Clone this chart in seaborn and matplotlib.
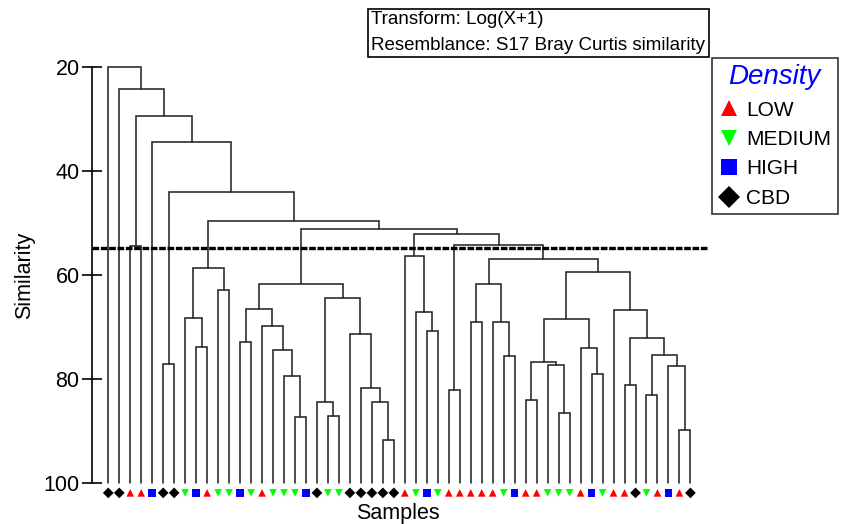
import matplotlib
matplotlib.use("Agg")
import matplotlib.pyplot as plt
import seaborn as sns
import pandas as pd
from matplotlib.lines import Line2D
from matplotlib.patches import Rectangle

# ---------------- data ----------------
density = ["CBD", "CBD", "LOW", "LOW", "HIGH", "CBD", "CBD", "MEDIUM", "HIGH", "LOW",
           "MEDIUM", "MEDIUM", "HIGH", "MEDIUM", "LOW", "MEDIUM", "MEDIUM", "MEDIUM", "HIGH", "CBD",
           "MEDIUM", "MEDIUM", "CBD", "CBD", "CBD", "CBD", "CBD", "LOW", "MEDIUM", "HIGH",
           "MEDIUM", "LOW", "LOW", "LOW", "LOW", "LOW", "MEDIUM", "HIGH", "LOW", "LOW",
           "MEDIUM", "MEDIUM", "MEDIUM", "LOW", "HIGH", "MEDIUM", "LOW", "LOW", "CBD", "MEDIUM",
           "LOW", "HIGH", "LOW", "CBD"]
groups = ["LOW", "MEDIUM", "HIGH", "CBD"]

# dendrogram merges: (left, right, similarity); ints are sample numbers (1-based, plot order)
t28_31 = (28, (29, (30, 31, 70.8), 67.2), 56.3)
t32_33 = (32, 33, 82.1)
t34_38 = ((34, 35, 69.1), (36, (37, 38, 75.5), 69.0), 61.7)
t39_46 = (((39, 40, 84.0), (41, (42, 43, 86.5), 77.3), 76.7), (44, (45, 46, 79.0), 74.0), 68.4)
t47_54 = (47, ((48, 49, 81.2), ((50, 51, 83.0), (52, (53, 54, 89.9), 77.5), 75.3), 72.1), 66.7)
t39_54 = (t39_46, t47_54, 59.4)
t34_54 = (t34_38, t39_54, 56.9)
t32_54 = (t32_33, t34_54, 54.2)
t28_54 = (t28_31, t32_54, 52.1)
t13_19 = ((13, 14, 72.9), (15, (16, (17, (18, 19, 87.4), 79.5), 74.4), 69.9), 66.5)
t20_27 = ((20, (21, 22, 87.2), 84.5), (23, (24, (25, (26, 27, 91.7), 84.5), 81.7), 71.3), 64.5)
t13_27 = (t13_19, t20_27, 61.7)
t13_54 = (t13_27, t28_54, 51.2)
t8_12 = ((8, (9, 10, 73.8), 68.3), (11, 12, 62.9), 58.7)
t8_54 = (t8_12, t13_54, 49.6)
t6_54 = ((6, 7, 77.1), t8_54, 44.0)
t5_54 = (5, t6_54, 34.4)
t3_54 = ((3, 4, 54.5), t5_54, 29.4)
t2_54 = (2, t3_54, 24.2)
tree = (1, t2_54, 20.0)

cut_level = 54.8
y_ticks = [20, 40, 60, 80, 100]
info_lines = ["Transform: Log(X+1)", "Resemblance: S17 Bray Curtis similarity"]

# ---------------- style ----------------
sns.set_theme(style="white")
plt.rcParams["font.family"] = ["Liberation Sans", "DejaVu Sans"]
plt.rcParams["text.color"] = "black"

W, H = 846, 524
fig = plt.figure(figsize=(W / 100, H / 100), dpi=100)
ax_l, ax_r, ax_t, ax_b = 92, 708, 67, 500
ax = fig.add_axes([ax_l / W, 1 - ax_b / H, (ax_r - ax_l) / W, (ax_b - ax_t) / H])

line_col = "#262626"
segments = []


def layout(node):
    if isinstance(node, int):
        return node - 1, 100.0
    left, right, h = node
    xl, hl = layout(left)
    xr, hr = layout(right)
    segments.append(([xl, xl, xr, xr], [hl, h, h, hr]))
    return (xl + xr) / 2.0, h


layout(tree)
for xs, ys in segments:
    ax.plot(xs, ys, color=line_col, lw=1.15, solid_joinstyle="miter", clip_on=False)

ax.axhline(cut_level, color="black", lw=2.4, ls=(0, (2.0, 0.5)), zorder=3)

# leaf markers
df = pd.DataFrame({"sample": range(len(density)), "density": density})
df["level"] = 101.9
palette = {"LOW": "#ff0000", "MEDIUM": "#00ff00", "HIGH": "#0000ff", "CBD": "#000000"}
markers = {"LOW": "^", "MEDIUM": "v", "HIGH": "s", "CBD": "D"}
sns.scatterplot(data=df, x="sample", y="level", hue="density", style="density",
                palette=palette, markers=markers, hue_order=groups, style_order=groups,
                s=30, linewidth=0, legend=False, ax=ax, clip_on=False, zorder=4)

ax.set_xlim(-1.48, 54.6)
ax.set_ylim(20 + (ax_b - ax_t) / 5.2, 20)
ax.set_xticks([])
ax.set_yticks(y_ticks)
ax.set_yticklabels([str(t) for t in y_ticks], fontsize=15.5)
ax.tick_params(axis="y", direction="inout", length=14, width=1.2, color="black",
               pad=2, left=True, labelcolor="black")
for side in ["top", "right", "bottom"]:
    ax.spines[side].set_visible(False)
ax.spines["left"].set_color("black")
ax.spines["left"].set_linewidth(1.2)
ax.spines["left"].set_bounds(20, 100)
ax.set_xlabel("")
ax.set_ylabel("")
ax.patch.set_alpha(0)

fig.text(25 / W, 1 - 275 / H, "Similarity", rotation=90, ha="center", va="center",
         fontsize=15.5, color="black")
fig.text(398 / W, 1 - 513 / H, "Samples", ha="center", va="center", fontsize=15.5, color="black")

# info box
fig.patches.append(Rectangle((368 / W, 1 - 57 / H), (709 - 368) / W, (57 - 9) / H,
                             transform=fig.transFigure, fill=False, ec="black", lw=1.2))
fig.text(371 / W, 1 - 20 / H, info_lines[0], ha="left", va="center", fontsize=13.5, color="black")
fig.text(371 / W, 1 - 45 / H, info_lines[1], ha="left", va="center", fontsize=13.5, color="black")

# legend
handles = [Line2D([], [], marker=markers[g], color=palette[g], ls="none", markersize=11,
                  markeredgewidth=0) for g in groups]
leg = fig.legend(handles, groups, loc="upper left", bbox_to_anchor=(712 / W, 1 - 58 / H),
                 frameon=True, fancybox=False, edgecolor="black", fontsize=15,
                 title="Density", borderaxespad=0, handletextpad=0.35, handlelength=1.0,
                 labelspacing=0.5, borderpad=0.3, labelcolor="black")
leg.get_frame().set_linewidth(1.2)
leg.get_title().set_fontsize(20)
leg.get_title().set_style("italic")
leg.get_title().set_color("#0000ff")

fig.savefig("out.png", dpi=100)
